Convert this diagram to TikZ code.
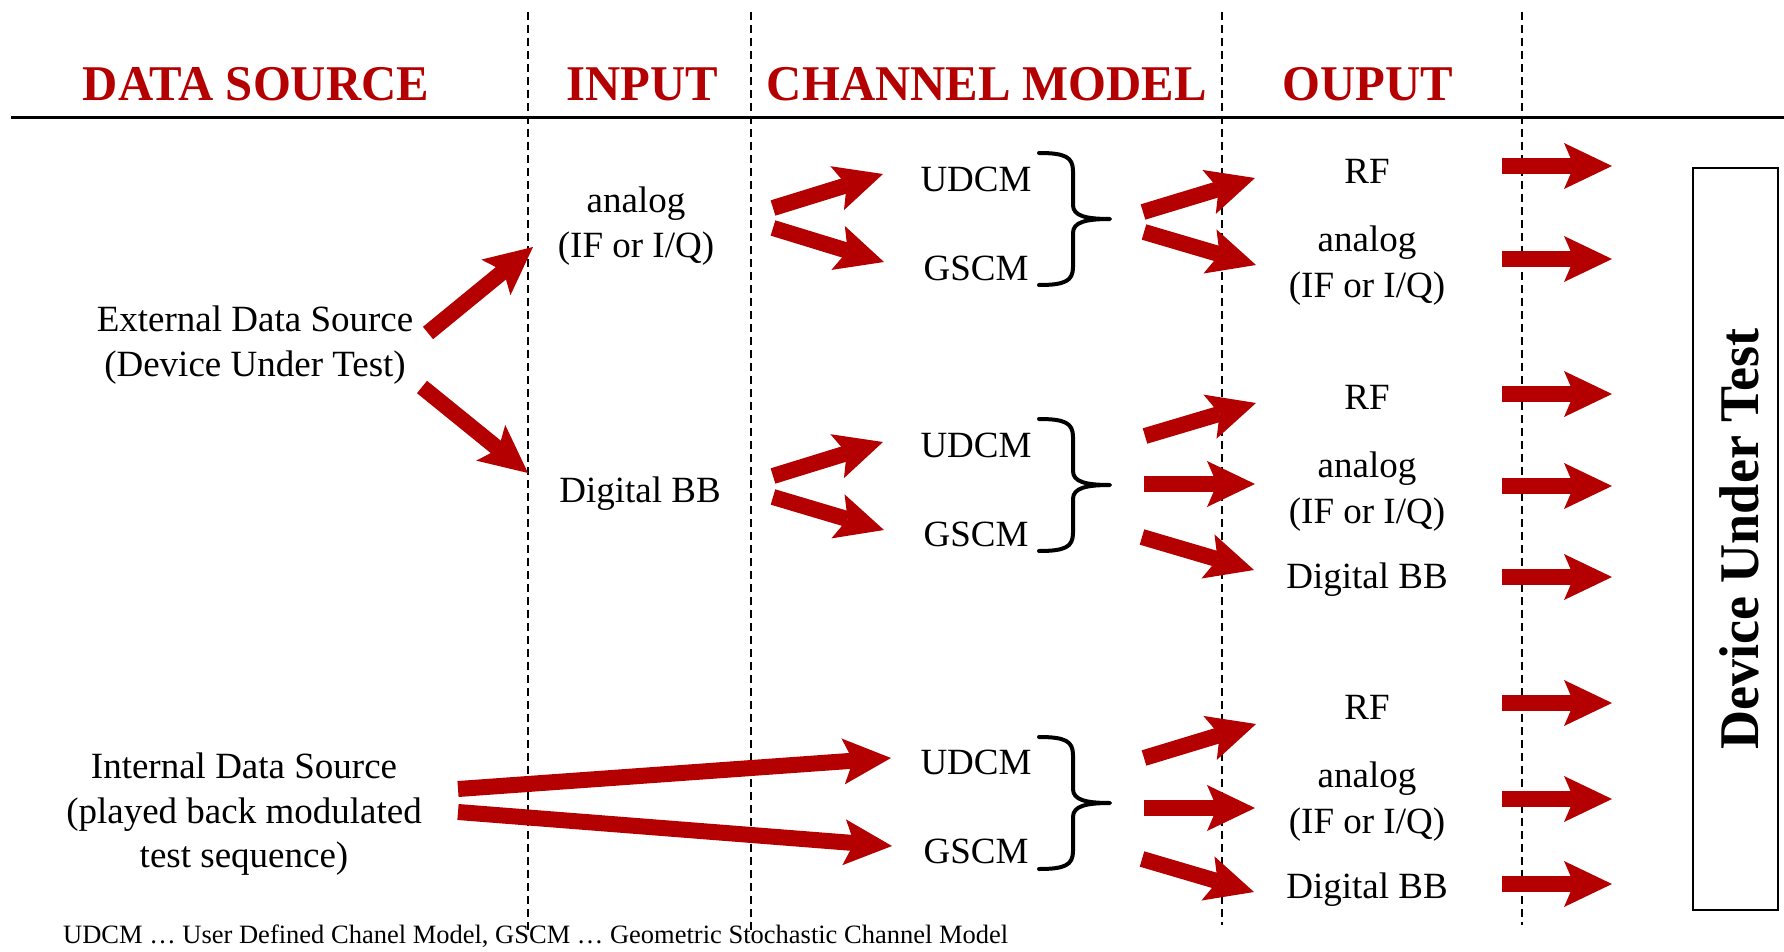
\documentclass[tikz,border=0pt]{standalone}
\usepackage{fontspec}
\setmainfont{Liberation Serif}
\newfontfamily\headfont[FakeStretch=0.975]{Liberation Serif}
\newfontfamily\dutfont[FakeStretch=0.965]{Liberation Serif}
\usetikzlibrary{arrows.meta}
\definecolor{dred}{RGB}{180,0,0}

\tikzset{
  lbl/.style={font=\fontsize{37}{45}\selectfont, anchor=base, inner sep=0pt},
  head/.style={font=\headfont\bfseries\fontsize{50}{60}\selectfont, text=dred, anchor=base, inner sep=0pt},
  fat/.style={draw=dred, line width=16pt,
    -{Stealth[length=48pt, width=46pt, inset=10pt, line width=0pt, fill=dred]}},
  colsep/.style={draw=black, line width=2pt, dash pattern=on 8pt off 5pt},
  bracestroke/.style={draw=black, line width=4pt, line cap=round, line join=round},
  rbrace/.pic={
    \path[bracestroke] (-71,-66) .. controls (-45,-66) and (-37,-62) .. (-37,-48)
      -- (-37,-14) .. controls (-37,-3) and (-24,0) .. (0,0)
      .. controls (-24,0) and (-37,3) .. (-37,14)
      -- (-37,48) .. controls (-37,62) and (-45,66) .. (-71,66);
  }
}

\begin{document}
\begin{tikzpicture}[x=1pt, y=-1pt]
\useasboundingbox (0,0) rectangle (1784,952);

% header rule and column separators
\draw[line width=3pt] (11,118) -- (1784,118);
\draw[colsep] (528,12) -- (528,935);
\draw[colsep] (751,12) -- (751,935);
\draw[colsep] (1222,12) -- (1222,925);
\draw[colsep] (1522,12) -- (1522,925);

% column titles
\node[head] (hds)  at (256,101)  {DATA SOURCE};
\node[head] (hin)  at (642,101)  {INPUT};
\node[head] (hch)  at (987,101)  {CHANNEL MODEL};
\node[head] (hout) at (1368,101) {OUPUT};

% data sources
\node[lbl] (ext1) at (255,331) {External Data Source};
\node[lbl] (ext2) at (255,376) {(Device Under Test)};
\node[lbl] (int1) at (244,778) {Internal Data Source};
\node[lbl] (int2) at (244,823) {(played back modulated};
\node[lbl] (int3) at (244,867) {test sequence)};

% inputs
\node[lbl] (inA1) at (636,212) {analog};
\node[lbl] (inA2) at (636,257) {(IF or I/Q)};
\node[lbl] (inD)  at (640,502) {Digital BB};

% channel models
\node[lbl] (ud1) at (976,191) {UDCM};
\node[lbl] (gs1) at (976,280) {GSCM};
\node[lbl] (ud2) at (976,457) {UDCM};
\node[lbl] (gs2) at (976,546) {GSCM};
\node[lbl] (ud3) at (976,774) {UDCM};
\node[lbl] (gs3) at (976,863) {GSCM};

\pic (b1) at (1110,219) {rbrace};
\pic (b2) at (1110,485) {rbrace};
\pic (b3) at (1110,803) {rbrace};

% outputs
\node[lbl] (rf1)  at (1367,183) {RF};
\node[lbl] (an1)  at (1367,251) {analog};
\node[lbl] (iq1)  at (1367,297) {(IF or I/Q)};
\node[lbl] (rf2)  at (1367,409) {RF};
\node[lbl] (an2)  at (1367,477) {analog};
\node[lbl] (iq2)  at (1367,523) {(IF or I/Q)};
\node[lbl] (dg2)  at (1367,588) {Digital BB};
\node[lbl] (rf3)  at (1367,719) {RF};
\node[lbl] (an3)  at (1367,787) {analog};
\node[lbl] (iq3)  at (1367,833) {(IF or I/Q)};
\node[lbl] (dg3)  at (1367,898) {Digital BB};

% device under test
\node[draw=black, line width=2.5pt, minimum width=85pt, minimum height=742pt, inner sep=0pt]
  (dutbox) at (1735.5,539) {};
\node[font=\dutfont\bfseries\fontsize{56}{60}\selectfont, rotate=90, inner sep=0pt]
  (dut) at (1739,539) {Device Under Test};

% arrow end points
\coordinate (s1) at (428,333);  \coordinate (e1) at (533,247);
\coordinate (s2) at (422,387);  \coordinate (e2) at (528,473);
\coordinate (s3) at (773,208);  \coordinate (e3) at (883,174);
\coordinate (s4) at (773,228);  \coordinate (e4) at (884,262);
\coordinate (s5) at (1143,212); \coordinate (e5) at (1255,178);
\coordinate (s6) at (1144,232); \coordinate (e6) at (1256,265);
\coordinate (s7) at (773,476);  \coordinate (e7) at (883,442);
\coordinate (s8) at (773,497);  \coordinate (e8) at (884,530);
\coordinate (s9) at (1145,436); \coordinate (e9) at (1256,403);
\coordinate (s10) at (1144,484); \coordinate (e10) at (1255,484);
\coordinate (s11) at (1142,537); \coordinate (e11) at (1254,570);
\coordinate (s12) at (458,789);  \coordinate (e12) at (891,758);
\coordinate (s13) at (458,812);  \coordinate (e13) at (892,846);
\coordinate (s14) at (1144,758); \coordinate (e14) at (1256,724);
\coordinate (s15) at (1144,808); \coordinate (e15) at (1255,808);
\coordinate (s16) at (1142,859); \coordinate (e16) at (1254,892);

\foreach \i in {1,...,16} { \draw[fat] (s\i) -- (e\i); }

% arrows into the device under test
\foreach \y [count=\k] in {166,259,394,486,577,703,799,884} {
  \coordinate (ds\k) at (1502,\y);
  \coordinate (de\k) at (1612,\y);
  \draw[fat] (ds\k) -- (de\k);
}

% legend
\node[font=\fontsize{26.5}{30}\selectfont, anchor=base west, inner sep=0pt] (legend) at (63,943)
  {UDCM … User Defined Chanel Model, GSCM … Geometric Stochastic Channel Model};
\end{tikzpicture}
\end{document}
